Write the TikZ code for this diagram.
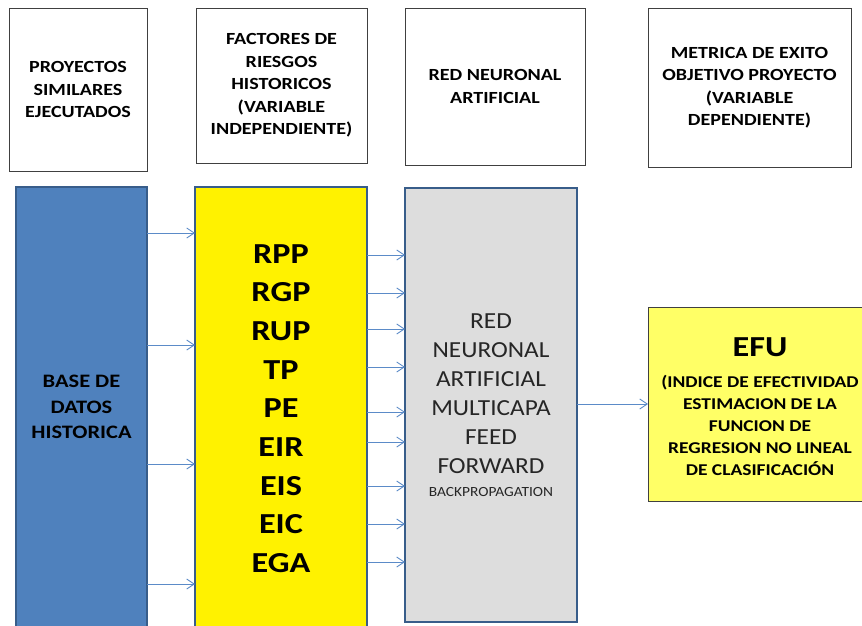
\documentclass[tikz,border=0pt]{standalone}
\usepackage{fontspec}
\setmainfont{Carlito}[FakeStretch=1.18]
\newfontfamily\grayfont{Carlito}[FakeStretch=1.1]
\usetikzlibrary{arrows.meta}
\definecolor{bluefill}{HTML}{4F81BD}
\definecolor{blueborder}{HTML}{385D8A}
\definecolor{grayfill}{HTML}{DDDDDD}
\definecolor{efufill}{HTML}{FFFF66}
\definecolor{arrowcol}{HTML}{5B8BC8}
\definecolor{topborder}{HTML}{404040}
\begin{document}
\begin{tikzpicture}[x=1pt,y=-1pt,
  topbox/.style={draw=topborder,line width=0.9pt,fill=white,inner sep=0pt,outer sep=0pt,align=center,
    font=\fontsize{17}{22.5}\selectfont\bfseries},
  colbox/.style={draw=blueborder,line width=1.6pt,inner sep=0pt,outer sep=0pt,align=center},
  conn/.style={draw=arrowcol,line width=0.9pt,-{Straight Barb[length=7.5pt,width=10pt,line width=0.9pt]}}
]
\clip (0,0) rectangle (862,626);
\fill[white] (0,0) rectangle (862,626);

% top header boxes
\node[topbox,minimum width=138pt,minimum height=163pt] (t1) at (78,89.5)
  {PROYECTOS\\SIMILARES\\EJECUTADOS};
\node[topbox,minimum width=171pt,minimum height=155pt] (t2) at (281.5,85.5)
  {FACTORES DE\\RIESGOS\\HISTORICOS\\(VARIABLE\\INDEPENDIENTE)};
\node[topbox,minimum width=180pt,minimum height=157pt] (t3) at (495,86.5)
  {RED NEURONAL\\ARTIFICIAL};
\node[topbox,minimum width=203pt,minimum height=159pt] (t4) at (749.5,87.5)
  {METRICA DE EXITO\\OBJETIVO PROYECTO\\(VARIABLE\\DEPENDIENTE)};

% main column boxes
\node[colbox,fill=bluefill,minimum width=131pt,minimum height=440pt,
  font=\fontsize{19}{25.5}\selectfont\bfseries] (base) at (81.5,407)
  {BASE DE\\DATOS\\HISTORICA};
\node[colbox,fill=yellow,minimum width=172pt,minimum height=443pt,
  font=\fontsize{29}{38.7}\selectfont\bfseries] (fact) at (281,408.5)
  {RPP\\RGP\\RUP\\TP\\PE\\EIR\\EIS\\EIC\\EGA};
\node[colbox,fill=grayfill,minimum width=172pt,minimum height=434pt,
  font=\grayfont\fontsize{23}{29}\selectfont,text=black!85] (red) at (491,405)
  {RED\\NEURONAL\\ARTIFICIAL\\MULTICAPA\\FEED\\FORWARD\\[-6pt]{\fontsize{14}{16}\selectfont BACKPROPAGATION}};
\node[draw=topborder,line width=0.9pt,fill=efufill,inner sep=0pt,outer sep=0pt,
  minimum width=220pt,minimum height=194pt,anchor=north west] (efu) at (648,307) {};
\node[align=center,font=\fontsize{16.5}{22}\selectfont\bfseries] (efutxt) at (760,407)
  {{\fontsize{29}{30}\selectfont EFU}\\[9pt](INDICE DE EFECTIVIDAD\\ESTIMACION DE LA\\FUNCION DE\\REGRESION NO LINEAL\\DE CLASIFICACIÓN};

% connectors base -> factores
\foreach \yy in {233,345,464,584}
  \draw[conn] (base.east |- 0,\yy) -- (fact.west |- 0,\yy);
% connectors factores -> red
\foreach \yy in {255,293,329,367,412,442,486,524,562}
  \draw[conn] (fact.east |- 0,\yy) -- (red.west |- 0,\yy);
% red -> efu
\draw[conn] (red.east |- 0,404) -- (efu.west |- 0,404);
\end{tikzpicture}
\end{document}
